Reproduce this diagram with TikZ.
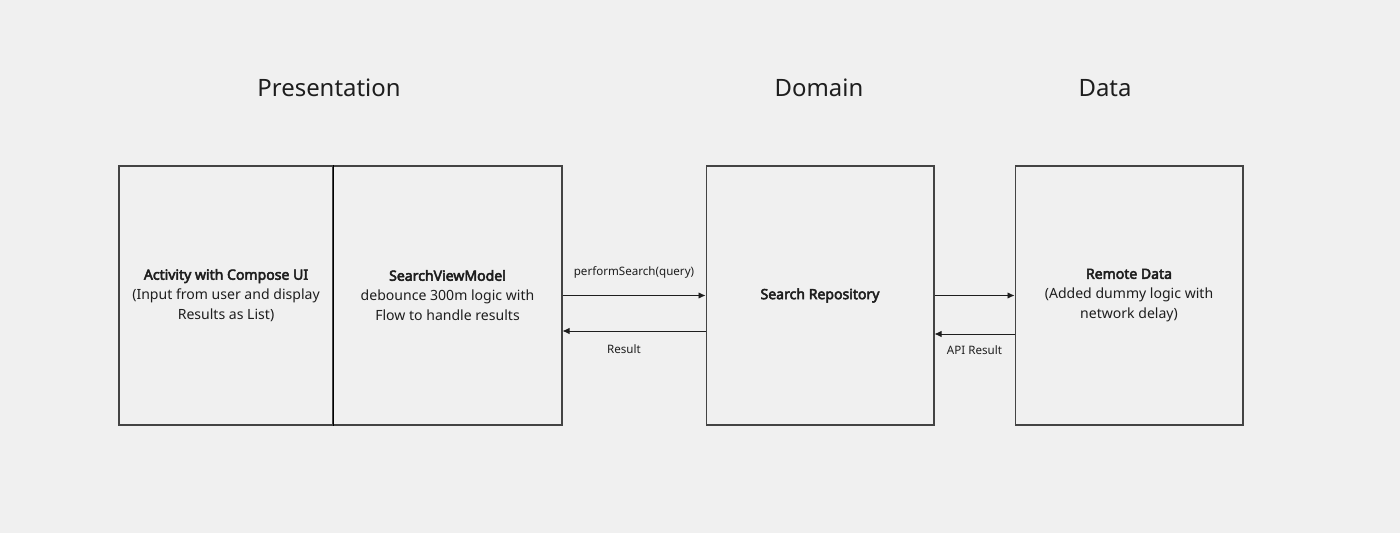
\documentclass[tikz,border=0pt]{standalone}
\usepackage{fontspec}
\setmainfont{Noto Sans}[AutoFakeBold=3.6]
\usetikzlibrary{arrows.meta}
\definecolor{bg}{HTML}{F0F0F0}
\definecolor{edge}{HTML}{444444}
\definecolor{ink}{HTML}{1E1E1E}

\begin{document}
\begin{tikzpicture}[x=0.02cm,y=-0.02cm]
\def\h{5.18cm}
\def\l{1.4mm}
\def\w{1.3mm}
\tikzset{
  box/.style={draw=edge,line width=0.6pt,minimum height=\h,inner sep=2pt,align=center,text=ink,font=\fontsize{8}{11.4}\selectfont},
  layer/.style={text=ink,font=\fontsize{13.6}{16}\selectfont},
  lbl/.style={text=ink,font=\fontsize{6.6}{8}\selectfont},
  arr/.style={-{Latex[length=\l, width=\w]},draw=ink,line width=0.5pt}
}
\fill [bg] (0,0) rectangle (1400,533);
\useasboundingbox (0,0) rectangle (1400,533);

\node [layer, name=t1] at (329,88) {Presentation};
\node [layer, name=t2] at (819,88) {Domain};
\node [layer, name=t3] at (1105,88) {Data};

\node [box, minimum width=4.28cm, name=act]   at (226,295.5) {\textbf{Activity with Compose UI}\\(Input from user and display\\Results as List)};
\node [box, minimum width=4.58cm, name=vm]    at (447.5,295.5) {\textbf{SearchViewModel}\\debounce 300m logic with\\Flow to handle results};
\node [box, minimum width=4.56cm, name=repo]  at (820,295.5) {\textbf{Search Repository}};
\node [box, minimum width=4.56cm, name=remote] at (1129,295.5) {\textbf{Remote Data}\\(Added dummy logic with\\network delay)};
\draw [black, line width=1.1pt] (act.north east) -- (act.south east);

\draw [arr] (vm.east) -- node [lbl, above=6pt] {performSearch(query)} (repo.west);
\draw [arr] ([yshift=-0.71cm]repo.west) -- node [lbl, below=4pt, xshift=-0.2cm] {Result} ([yshift=-0.71cm]vm.east);
\draw [arr] (repo.east) -- (remote.west);
\draw [arr] ([yshift=-0.77cm]remote.west) -- node [lbl, below=3pt] {API Result} ([yshift=-0.77cm]repo.east);
\end{tikzpicture}
\end{document}
